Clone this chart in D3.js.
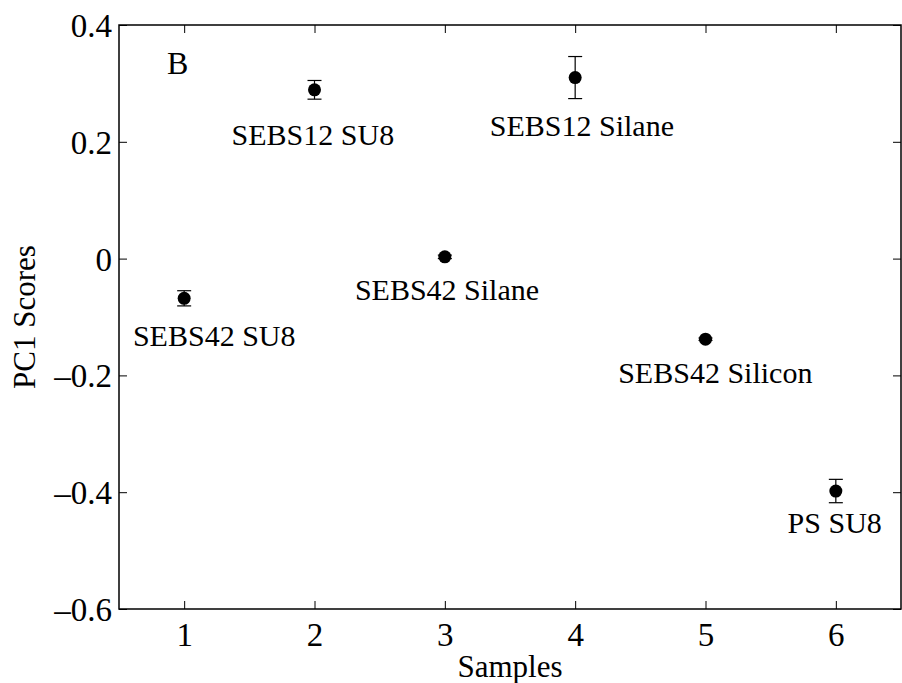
<!DOCTYPE html>
<html>
<head>
<meta charset="utf-8">
<script src="https://cdn.jsdelivr.net/npm/d3@7"></script>
<style>
  body { margin: 0; background: #fff; }
</style>
</head>
<body>
<script>
// data
var samples = [1, 2, 3, 4, 5, 6];
var scores  = [-0.068, 0.289, 0.003, 0.310, -0.138, -0.398];
var errs    = [0.013, 0.016, 0.003, 0.036, 0.002, 0.020];
var names   = ["SEBS42 SU8", "SEBS12 SU8", "SEBS42 Silane", "SEBS12 Silane", "SEBS42 Silicon", "PS SU8"];
// where each name sits (left edge, baseline) in data units
var nameX   = [0.607, 1.364, 2.31, 3.345, 4.33, 5.63];
var nameY   = [-0.150, 0.195, -0.071, 0.210, -0.213, -0.470];
var xTicks  = [1, 2, 3, 4, 5, 6];
var yTicks  = [-0.6, -0.4, -0.2, 0, 0.2, 0.4];

var W = 902, H = 683;
var pLeft = 119, pRight = 901, pTop = 25, pBottom = 609;
var serif = '"Liberation Serif", "Times New Roman", Times, serif';

var svg = d3.select("body").append("svg").attr("width", W).attr("height", H);

var x = d3.scaleLinear().domain([0.5, 6.5]).range([pLeft, pRight]);
var y = d3.scaleLinear().domain([-0.6, 0.4]).range([pBottom, pTop]);

function fmt(d) {
  if (Math.abs(d) < 1e-9) return "0";
  var s = d3.format(".1f")(Math.abs(d));
  return d < 0 ? "\u2013" + s : s;
}

// axes with inward ticks
var tk = 8;
var xAxis = svg.append("g").attr("transform", "translate(0," + pBottom + ")")
  .call(d3.axisBottom(x).tickValues(xTicks).tickSize(-tk).tickPadding(14).tickFormat(d3.format("d")));
var xTop = svg.append("g").attr("transform", "translate(0," + pTop + ")")
  .call(d3.axisTop(x).tickValues(xTicks).tickSize(-tk).tickFormat(""));
var yAxis = svg.append("g").attr("transform", "translate(" + pLeft + ",0)")
  .call(d3.axisLeft(y).tickValues(yTicks).tickSize(-tk).tickPadding(7).tickFormat(fmt));
var yRight = svg.append("g").attr("transform", "translate(" + pRight + ",0)")
  .call(d3.axisRight(y).tickValues(yTicks).tickSize(-tk).tickFormat(""));

[xAxis, xTop, yAxis, yRight].forEach(function (g) {
  g.attr("font-family", null).attr("font-size", null);
  g.select(".domain").remove();
  g.selectAll(".tick line").attr("stroke", "#000").attr("stroke-width", 1);
  g.selectAll("text").style("font-family", serif).style("font-size", "33px").attr("fill", "#000");
});
xAxis.selectAll("text").attr("dy", "0.71em");
yAxis.selectAll("text").attr("dy", "0.35em");

svg.append("rect")
  .attr("x", pLeft).attr("y", pTop)
  .attr("width", pRight - pLeft).attr("height", pBottom - pTop)
  .attr("fill", "none").attr("stroke", "#000").attr("stroke-width", 1.5);

// error bars
var pts = samples.map(function (s, i) { return { x: s, y: scores[i], e: errs[i], name: names[i], lx: nameX[i], ly: nameY[i] }; });
var cap = 7;
var eb = svg.append("g").attr("stroke", "#000").attr("stroke-width", 1.2);
pts.forEach(function (d) {
  var cx = x(d.x), y1 = y(d.y + d.e), y2 = y(d.y - d.e);
  eb.append("line").attr("x1", cx).attr("x2", cx).attr("y1", y1).attr("y2", y2);
  eb.append("line").attr("x1", cx - cap).attr("x2", cx + cap).attr("y1", y1).attr("y2", y1);
  eb.append("line").attr("x1", cx - cap).attr("x2", cx + cap).attr("y1", y2).attr("y2", y2);
});

svg.selectAll("circle.pt").data(pts).enter().append("circle")
  .attr("class", "pt")
  .attr("cx", function (d) { return x(d.x); })
  .attr("cy", function (d) { return y(d.y); })
  .attr("r", 6.5)
  .attr("fill", "#000");

svg.selectAll("text.nm").data(pts).enter().append("text")
  .attr("class", "nm")
  .attr("x", function (d) { return x(d.lx); })
  .attr("y", function (d) { return y(d.ly); })
  .style("font-family", serif)
  .style("font-size", "30px")
  .text(function (d) { return d.name; });

// panel letter
svg.append("text").attr("x", 167).attr("y", 74)
  .style("font-family", serif).style("font-size", "32px").text("B");

// axis titles
svg.append("text")
  .attr("x", (pLeft + pRight) / 2).attr("y", 677)
  .attr("text-anchor", "middle")
  .style("font-family", serif).style("font-size", "31px")
  .text("Samples");
svg.append("text")
  .attr("transform", "translate(35," + (pTop + pBottom) / 2 + ") rotate(-90)")
  .attr("text-anchor", "middle")
  .style("font-family", serif).style("font-size", "31px")
  .text("PC1 Scores");
</script>
</body>
</html>
